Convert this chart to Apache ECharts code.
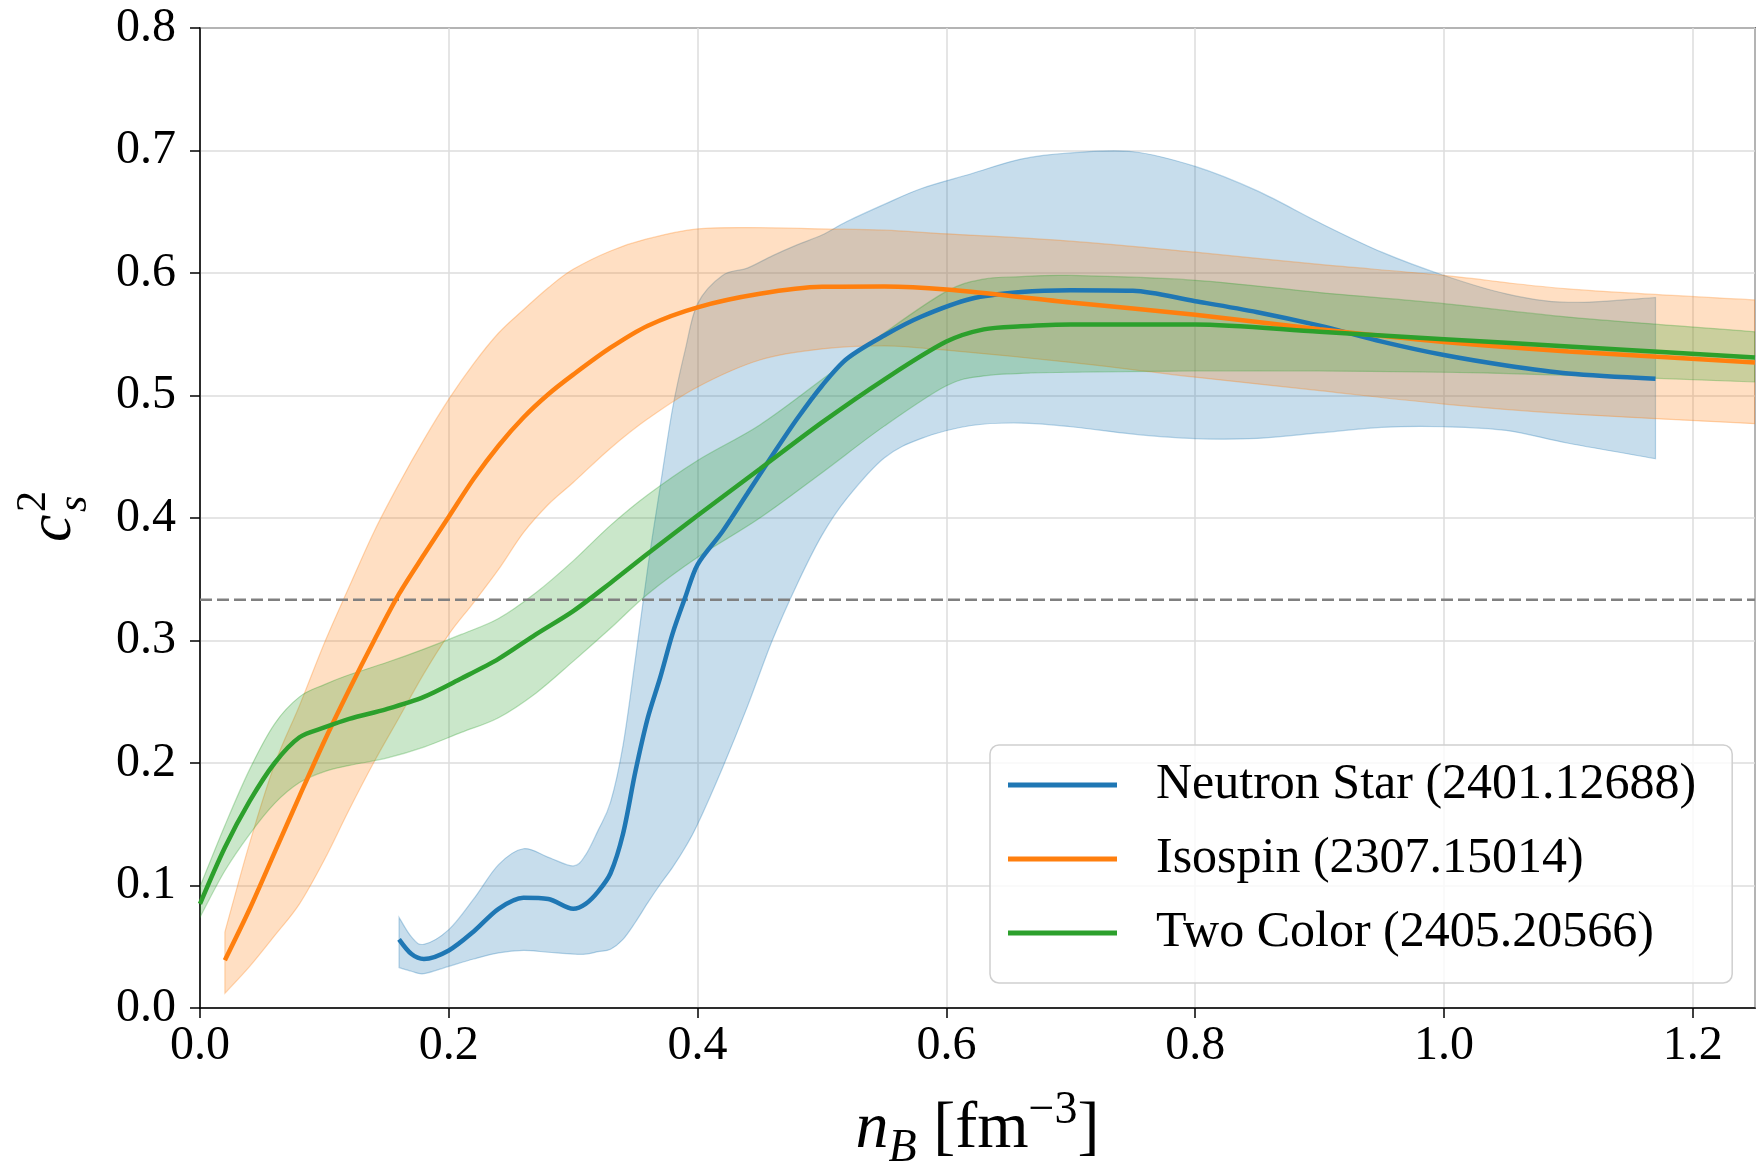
<!DOCTYPE html>
<html>
<head>
<meta charset="utf-8">
<script src="https://cdn.jsdelivr.net/npm/echarts@6/dist/echarts.min.js"></script>
<style>
html,body{margin:0;padding:0;background:#fff;}
#chart{width:1757px;height:1168px;}
</style>
</head>
<body>
<div id="chart"></div>
<script>
// ---------- Neutron Star (2401.12688) ----------
const nsX   = [0.16,0.17,0.18,0.20,0.22,0.24,0.26,0.28,0.30,0.31,0.32,0.33,0.34,0.35,0.36,0.37,0.38,0.39,0.40,0.42,0.44,0.46,0.48,0.50,0.52,0.55,0.58,0.62,0.66,0.70,0.75,0.80,0.85,0.90,0.95,1.00,1.05,1.10,1.17];
const nsMid = [0.056,0.044,0.040,0.047,0.0625,0.081,0.090,0.089,0.081,0.085,0.095,0.110,0.142,0.193,0.237,0.270,0.306,0.335,0.362,0.389,0.420,0.451,0.481,0.508,0.530,0.549,0.5645,0.579,0.5845,0.586,0.5855,0.577,0.568,0.557,0.544,0.533,0.5245,0.518,0.5137];
const nsLo  = [0.033,0.030,0.028,0.034,0.040,0.045,0.047,0.0455,0.044,0.044,0.046,0.048,0.056,0.070,0.086,0.101,0.115,0.131,0.150,0.196,0.246,0.300,0.346,0.386,0.416,0.449,0.465,0.4755,0.4775,0.4745,0.4685,0.4648,0.465,0.4695,0.474,0.4745,0.4715,0.461,0.4484];
const nsHi  = [0.074,0.058,0.052,0.064,0.089,0.117,0.130,0.123,0.116,0.125,0.145,0.168,0.214,0.285,0.360,0.426,0.490,0.537,0.575,0.598,0.604,0.614,0.623,0.631,0.642,0.656,0.669,0.681,0.693,0.698,0.699,0.687,0.667,0.641,0.617,0.598,0.583,0.576,0.580];

// ---------- Isospin (2307.15014) ----------
const isoX   = [0.02,0.04,0.06,0.08,0.10,0.12,0.14,0.16,0.18,0.20,0.22,0.24,0.26,0.28,0.30,0.33,0.36,0.40,0.45,0.50,0.55,0.60,0.70,0.80,0.90,1.00,1.10,1.25];
const isoMid = [0.039,0.081,0.127,0.173,0.218,0.260,0.300,0.338,0.370,0.401,0.432,0.459,0.482,0.501,0.517,0.539,0.557,0.572,0.583,0.5887,0.589,0.5865,0.576,0.566,0.554,0.5437,0.536,0.527];
const isoLo  = [0.012,0.034,0.059,0.085,0.121,0.162,0.201,0.237,0.273,0.305,0.331,0.358,0.388,0.411,0.429,0.457,0.481,0.507,0.529,0.538,0.5405,0.537,0.527,0.515,0.504,0.493,0.485,0.477];
const isoHi  = [0.062,0.135,0.199,0.247,0.298,0.344,0.389,0.428,0.464,0.497,0.526,0.551,0.570,0.588,0.603,0.618,0.628,0.636,0.637,0.636,0.635,0.632,0.626,0.617,0.607,0.598,0.587,0.578];

// ---------- Two Color (2405.20566) ----------
const tcX   = [0.00,0.02,0.04,0.06,0.08,0.10,0.12,0.15,0.18,0.21,0.24,0.27,0.30,0.33,0.36,0.40,0.45,0.50,0.55,0.60,0.63,0.66,0.70,0.80,0.90,1.00,1.10,1.25];
const tcMid = [0.085,0.131,0.169,0.200,0.221,0.229,0.236,0.244,0.254,0.269,0.285,0.305,0.324,0.347,0.371,0.402,0.440,0.478,0.513,0.544,0.554,0.5565,0.558,0.558,0.552,0.546,0.540,0.531];
const tcLo  = [0.074,0.112,0.142,0.167,0.184,0.193,0.198,0.204,0.213,0.225,0.237,0.257,0.283,0.310,0.338,0.368,0.400,0.437,0.475,0.508,0.516,0.518,0.519,0.520,0.520,0.519,0.5165,0.511];
const tcHi  = [0.099,0.149,0.195,0.232,0.254,0.264,0.272,0.282,0.293,0.305,0.318,0.339,0.365,0.394,0.419,0.447,0.476,0.513,0.551,0.585,0.595,0.597,0.598,0.594,0.584,0.575,0.564,0.552];

// conformal limit c_s^2 = 1/3
const confX = [0, 1.25];
const confY = [1/3, 1/3];

const names  = ['Neutron Star (2401.12688)', 'Isospin (2307.15014)', 'Two Color (2405.20566)'];
const colors = ['#1f77b4', '#ff7f0e', '#2ca02c'];
const rgb    = ['31,119,180', '255,127,14', '44,160,44'];

const FONT = '"Liberation Serif", "Times New Roman", serif';

function pairs(xs, ys) { return xs.map((x, i) => [x, ys[i]]); }

// Catmull-Rom -> cubic bezier path through pixel points
function crPath(p, first) {
  let d = (first ? 'M' : 'L') + p[0][0].toFixed(2) + ' ' + p[0][1].toFixed(2);
  const n = p.length, t = 1 / 6;
  for (let i = 0; i < n - 1; i++) {
    const p0 = p[i === 0 ? 0 : i - 1], p1 = p[i], p2 = p[i + 1], p3 = p[i + 2 < n ? i + 2 : n - 1];
    const c1x = p1[0] + (p2[0] - p0[0]) * t, c1y = p1[1] + (p2[1] - p0[1]) * t;
    const c2x = p2[0] - (p3[0] - p1[0]) * t, c2y = p2[1] - (p3[1] - p1[1]) * t;
    d += ' C' + c1x.toFixed(2) + ' ' + c1y.toFixed(2) + ' ' + c2x.toFixed(2) + ' ' + c2y.toFixed(2) +
         ' ' + p2[0].toFixed(2) + ' ' + p2[1].toFixed(2);
  }
  return d;
}

function band(key, k, xs, lo, hi) {
  return {
    name: key + '_band', type: 'custom', silent: true, z: 2, clip: true,
    data: xs.map((x, i) => [x, lo[i], hi[i]]),
    encode: { x: 0, y: [1, 2] },
    renderItem: function (params, api) {
      if (params.dataIndex !== 0) return null;
      const up = xs.map((x, i) => api.coord([x, hi[i]]));
      const dn = xs.map((x, i) => api.coord([x, lo[i]])).reverse();
      const d = crPath(up, true) + ' ' + crPath(dn, false) + ' Z';
      return {
        type: 'path',
        shape: { pathData: d },
        style: {
          fill: 'rgba(' + rgb[k] + ',0.25)',
          stroke: 'rgba(' + rgb[k] + ',0.3)',
          lineWidth: 1.2
        }
      };
    }
  };
}

function center(k, xs, ys) {
  return {
    name: names[k], type: 'line', data: pairs(xs, ys), symbol: 'none', showSymbol: false,
    smooth: 0.3, z: 4, silent: true,
    itemStyle: { color: colors[k] },
    lineStyle: { color: colors[k], width: 4.5 },
    emphasis: { disabled: true }
  };
}

const series = [
  band('ns', 0, nsX, nsLo, nsHi),
  band('iso', 1, isoX, isoLo, isoHi),
  band('tc', 2, tcX, tcLo, tcHi),
  {
    name: 'conformal', type: 'line', data: pairs(confX, confY), symbol: 'none', silent: true, z: 3,
    lineStyle: { color: '#808080', width: 2.5, type: [12, 5] }
  },
  center(0, nsX, nsMid),
  center(1, isoX, isoMid),
  center(2, tcX, tcMid)
];

const chart = echarts.init(document.getElementById('chart'), null, { renderer: 'canvas' });
chart.setOption({
  animation: false,
  backgroundColor: '#ffffff',
  grid: {
    left: 200, right: 2, top: 28, bottom: 160,
    containLabel: false, outerBoundsMode: 'none',
    show: true, borderColor: '#000', borderWidth: 1.5, backgroundColor: 'transparent'
  },
  xAxis: {
    type: 'value', min: 0, max: 1.25, interval: 0.2,
    axisLine: { show: true, onZero: false, lineStyle: { color: '#000', width: 1.5 } },
    axisTick: { show: true, inside: false, length: 10, lineStyle: { color: '#000', width: 1.5 } },
    axisLabel: {
      fontFamily: FONT, fontSize: 48, color: '#000', margin: 14, showMaxLabel: false,
      formatter: function (v) {
        const q = v / 0.2;
        return Math.abs(q - Math.round(q)) < 1e-6 ? v.toFixed(1) : '';
      }
    },
    splitLine: { show: true, lineStyle: { color: '#dcdcdc', width: 1.5 } },
    name: '{n|n}{b|B}{t| [fm}{s|\u22123}{t|]}',
    nameLocation: 'middle', nameGap: 80,
    nameTextStyle: {
      color: '#000',
      rich: {
        n: { fontFamily: FONT, fontStyle: 'italic', fontSize: 66, lineHeight: 84, verticalAlign: 'middle', color: '#000' },
        b: { fontFamily: FONT, fontStyle: 'italic', fontSize: 46, lineHeight: 46, verticalAlign: 'bottom', color: '#000' },
        t: { fontFamily: FONT, fontSize: 66, lineHeight: 84, verticalAlign: 'middle', color: '#000' },
        s: { fontFamily: FONT, fontSize: 46, lineHeight: 40, verticalAlign: 'top', color: '#000' }
      }
    }
  },
  yAxis: {
    type: 'value', min: 0, max: 0.8, interval: 0.1,
    axisLine: { show: true, onZero: false, lineStyle: { color: '#000', width: 1.5 } },
    axisTick: { show: true, inside: false, length: 10, lineStyle: { color: '#000', width: 1.5 } },
    axisLabel: {
      fontFamily: FONT, fontSize: 48, color: '#000', margin: 24,
      formatter: function (v) { return v.toFixed(1); }
    },
    splitLine: { show: true, lineStyle: { color: '#dcdcdc', width: 1.5 } }
  },
  legend: {
    data: names,
    orient: 'vertical', left: 990, top: 745,
    icon: 'rect', itemWidth: 109, itemHeight: 5, itemGap: 24,
    padding: [15, 36, 25, 18],
    backgroundColor: 'rgba(255,255,255,0.8)',
    borderColor: '#cfcfcf', borderWidth: 1.5, borderRadius: 9,
    selectedMode: false,
    textStyle: { fontFamily: FONT, fontSize: 50, color: '#000', lineHeight: 50, padding: [0, 0, 0, 34] }
  },
  graphic: [{
    type: 'group', x: 54, y: 520, rotation: Math.PI / 2, silent: true,
    children: [
      { type: 'text', x: -22, y: 0,
        style: { text: 'c', font: 'italic 62px "Liberation Serif"', fill: '#000',
                 align: 'left', verticalAlign: 'middle' } },
      { type: 'text', x: 8, y: -20,
        style: { text: '2', font: '42px "Liberation Serif"', fill: '#000',
                 align: 'left', verticalAlign: 'middle' } },
      { type: 'text', x: 8, y: 21,
        style: { text: 's', font: 'italic 42px "Liberation Serif"', fill: '#000',
                 align: 'left', verticalAlign: 'middle' } }
    ]
  }],
  series: series
});
</script>
</body>
</html>
